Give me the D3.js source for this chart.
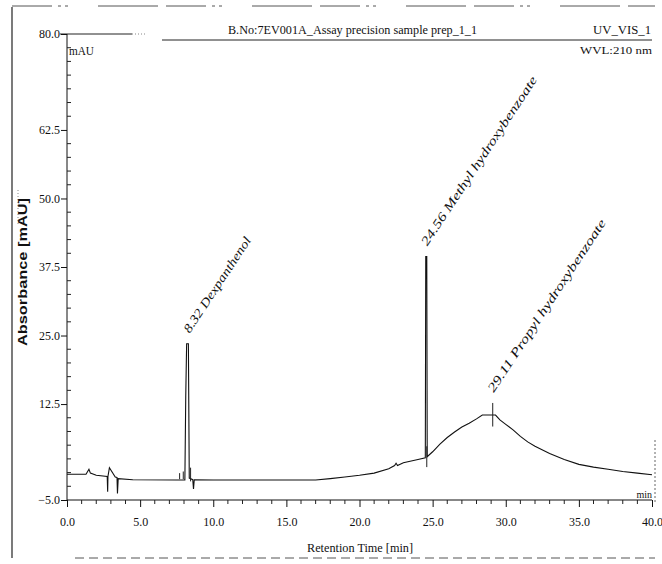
<!DOCTYPE html>
<html>
<head>
<meta charset="utf-8">
<script src="https://cdn.jsdelivr.net/npm/d3@7/dist/d3.min.js"></script>
<style>
html,body{margin:0;padding:0;background:#fff;}
svg{display:block;}
text{fill:#111;}
</style>
</head>
<body>
<svg id="chart" width="662" height="564"></svg>
<script>
// ---- data ----
const times = [0.0,1.3,1.5,1.6,2.0,2.75,2.78,2.8,2.9,3.3,3.42,3.45,3.5,4.5,7.5,8.06,8.12,8.18,8.3,8.36,8.6,8.65,8.7,10,17,18,19,20,21,22,22.4,22.5,22.6,23,24,24.5,24.53,24.6,24.63,25,25.5,26,26.5,27,27.5,28,28.4,29.3,29.6,30,30.5,31,31.5,32,33,34,35,36,37,38,39,40];
const absorbance = [-0.3,-0.3,0.6,-0.1,-0.5,-0.7,-3.5,-0.7,0.9,-0.8,-0.9,-3.8,-1.1,-1.3,-1.35,-1.35,14.0,23.5,23.5,-1.0,-1.3,-3.0,-1.3,-1.35,-1.35,-1.1,-0.8,-0.5,-0.1,0.7,1.3,1.7,1.3,1.8,2.4,2.7,39.4,39.4,2.9,3.8,5.2,6.4,7.4,8.3,9.0,9.8,10.5,10.5,9.6,8.8,7.8,6.6,5.6,4.8,3.5,2.4,1.5,1.0,0.6,0.2,-0.1,-0.4];
const peakTimes = [8.32, 24.56, 29.11];
const peakHeights = [23.5, 39.4, 12.7];
const peakNames = ["8.32 Dexpanthenol", "24.56 Methyl hydroxybenzoate", "29.11 Propyl hydroxybenzoate"];
const markerTimes = [7.7, 7.95, 8.45, 24.6, 29.11];
const markerLow = [-1.2, -1.2, -1.6, 1.0, 8.4];
const markerHigh = [-0.1, 0.2, 0.9, 4.8, 12.7];
const xMajorTicks = [0, 5, 10, 15, 20, 25, 30, 35, 40];
const yMajorTicks = [-5, 12.5, 25, 37.5, 50, 62.5, 80];
const xTitle = "Retention Time [min]";
const yTitle = "Absorbance [mAU]";
const chartTitle = "B.No:7EV001A_Assay precision sample prep_1_1";
const channel = "UV_VIS_1";
const wavelength = "WVL:210 nm";

// ---- layout ----
const svg = d3.select("#chart");
const x = d3.scaleLinear().domain([0, 40]).range([67, 652]);
const y = d3.scaleLinear().domain([-5, 80]).range([500, 34]);
const serif = "'Liberation Serif', 'DejaVu Serif', serif";

// frame (scanned-document look)
svg.append("line").attr("x1", 12).attr("x2", 12).attr("y1", 7).attr("y2", 558)
  .attr("stroke", "#222").attr("stroke-width", 1.2);
svg.append("line").attr("x1", 12).attr("x2", 655).attr("y1", 6).attr("y2", 6)
  .attr("stroke", "#555").attr("stroke-dasharray", "40,6,3,4,3,30,60,8").attr("stroke-width", 1);
svg.append("line").attr("x1", 75).attr("x2", 655).attr("y1", 558).attr("y2", 558)
  .attr("stroke", "#555").attr("stroke-dasharray", "9,5").attr("stroke-width", 1);
svg.append("line").attr("x1", 655).attr("x2", 655).attr("y1", 440).attr("y2", 503)
  .attr("stroke", "#666").attr("stroke-dasharray", "2,2").attr("stroke-width", 1);
svg.append("line").attr("x1", 18).attr("x2", 18).attr("y1", 190).attr("y2", 225)
  .attr("stroke", "#888").attr("stroke-dasharray", "1,2");

// header lines
svg.append("line").attr("x1", 60).attr("x2", 132).attr("y1", y(80)).attr("y2", y(80))
  .attr("stroke", "#222").attr("stroke-width", 1);
svg.append("line").attr("x1", 132).attr("x2", 146).attr("y1", y(80)).attr("y2", y(80))
  .attr("stroke", "#888").attr("stroke-dasharray", "1,2");
svg.append("line").attr("x1", 162).attr("x2", 652).attr("y1", 40).attr("y2", 40)
  .attr("stroke", "#222").attr("stroke-width", 1);

// header texts
svg.append("text").attr("x", 228).attr("y", 34).attr("font-family", serif).attr("font-size", 12)
  .attr("textLength", 249).attr("lengthAdjust", "spacingAndGlyphs").text(chartTitle);
svg.append("text").attr("x", 651).attr("y", 34).attr("text-anchor", "end").attr("font-family", serif)
  .attr("font-size", 12).attr("textLength", 58).attr("lengthAdjust", "spacingAndGlyphs").text(channel);
svg.append("text").attr("x", 652).attr("y", 54).attr("text-anchor", "end").attr("font-family", serif)
  .attr("font-size", 11).attr("textLength", 72).attr("lengthAdjust", "spacingAndGlyphs").text(wavelength);
svg.append("text").attr("x", 69).attr("y", 55).attr("font-family", serif).attr("font-size", 12)
  .attr("textLength", 25).attr("lengthAdjust", "spacingAndGlyphs").text("mAU");
svg.append("text").attr("x", 652).attr("y", 498).attr("text-anchor", "end").attr("font-family", serif)
  .attr("font-size", 10).text("min");

// y axis
const yAxis = svg.append("g").attr("transform", `translate(${x(0)},0)`)
  .call(d3.axisLeft(y).tickValues(yMajorTicks).tickSize(6).tickFormat(d3.format(".1f")));
yAxis.select(".domain").attr("stroke", "#111").attr("d", `M0,${y(-5)}V${y(80)}`);
yAxis.selectAll("text").attr("font-family", serif).attr("font-size", 12).attr("dx", "2").attr("fill", "#111");
yAxis.selectAll(".tick line").attr("stroke", "#111");
const yMinor = d3.range(-5, 80, 2.5).filter(v => !yMajorTicks.includes(v));
svg.append("g").selectAll("line").data(yMinor).join("line")
  .attr("x1", x(0)).attr("x2", x(0) + 4).attr("y1", d => y(d)).attr("y2", d => y(d))
  .attr("stroke", "#222");

// x axis
const xAxis = svg.append("g").attr("transform", `translate(0,${y(-5)})`)
  .call(d3.axisBottom(x).tickValues(xMajorTicks).tickSize(7).tickPadding(10).tickFormat(d3.format(".1f")));
xAxis.select(".domain").attr("stroke", "#111").attr("d", `M${x(0)},0H${x(40)}`);
xAxis.selectAll("text").attr("font-family", serif).attr("font-size", 12).attr("fill", "#111");
xAxis.selectAll(".tick line").attr("stroke", "#111");
const xMinor = d3.range(1, 40, 1).filter(v => v % 5 !== 0);
svg.append("g").selectAll("line").data(xMinor).join("line")
  .attr("x1", d => x(d)).attr("x2", d => x(d)).attr("y1", y(-5)).attr("y2", y(-5) + 4)
  .attr("stroke", "#222");

// axis titles
svg.append("text").attr("x", 360).attr("y", 552).attr("text-anchor", "middle").attr("font-family", serif)
  .attr("font-size", 12).attr("textLength", 106).attr("lengthAdjust", "spacingAndGlyphs").text(xTitle);
svg.append("text").attr("transform", "translate(27,272) rotate(-90)").attr("text-anchor", "middle")
  .attr("font-family", "'Liberation Sans', Arial, sans-serif").attr("font-size", 12.5).attr("font-weight", 600)
  .attr("textLength", 148).attr("lengthAdjust", "spacingAndGlyphs").text(yTitle);

// signal
const pts = times.map((t, i) => [t, absorbance[i]]);
svg.append("path").datum(pts)
  .attr("d", d3.line().x(d => x(d[0])).y(d => y(d[1])))
  .attr("fill", "none").attr("stroke", "#111").attr("stroke-width", 1.1);

// peak markers
svg.append("g").selectAll("line").data(markerTimes).join("line")
  .attr("x1", d => x(d)).attr("x2", d => x(d))
  .attr("y1", (d, i) => y(markerLow[i])).attr("y2", (d, i) => y(markerHigh[i]))
  .attr("stroke", "#222").attr("stroke-width", 1);

// peak labels
const labelLen = [112, 200, 204];
svg.append("g").selectAll("text").data(peakNames).join("text")
  .attr("transform", (d, i) => `translate(${x(peakTimes[i]) + 1},${y(peakHeights[i]) - 10}) rotate(-56.5)`)
  .attr("font-family", serif).attr("font-style", "italic").attr("font-size", 12.5)
  .attr("textLength", (d, i) => labelLen[i]).attr("lengthAdjust", "spacingAndGlyphs")
  .text(d => d);
</script>
</body>
</html>
